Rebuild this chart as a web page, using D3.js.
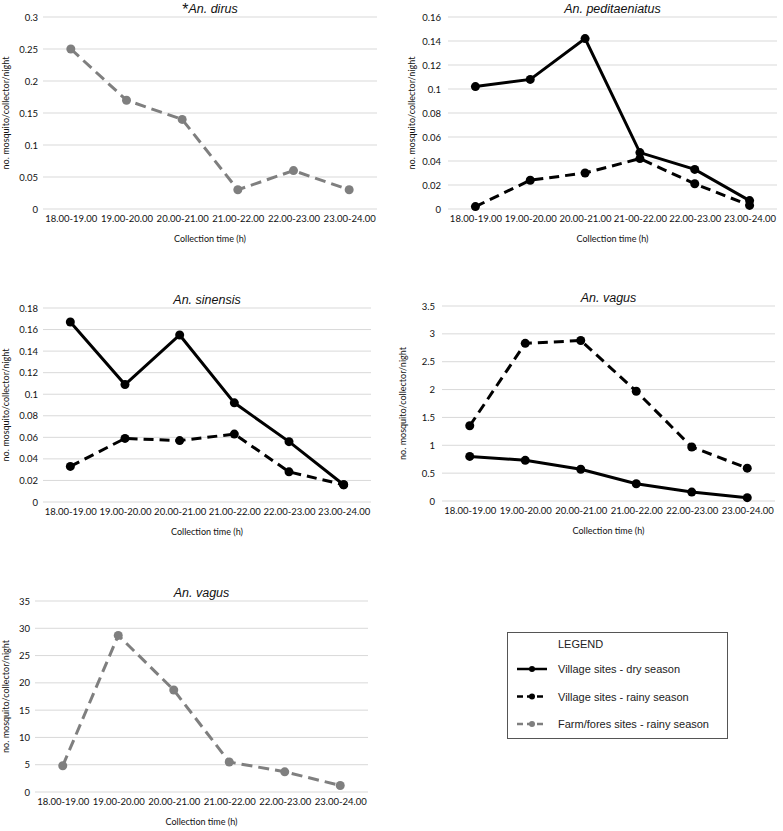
<!DOCTYPE html>
<html>
<head>
<meta charset="utf-8">
<script src="https://cdn.jsdelivr.net/npm/d3@7"></script>
<style>
  body { margin: 0; background: #fff; }
  svg { display: block; }
  .tick text { font-family: Lato, "Open Sans", sans-serif; font-size: 9.5px; fill: #111; }
  .grid line { stroke: #d9d9d9; stroke-width: 1; }
  .title { font-family: "Liberation Sans", Arial, sans-serif; font-style: italic; font-size: 12.5px; fill: #111; }
  .axis-label { font-family: Lato, "Open Sans", sans-serif; font-size: 9px; fill: #111; }
  .legend text { font-family: "Liberation Sans", Arial, sans-serif; font-size: 11px; fill: #222; }
</style>
</head>
<body>
<div id="chart-area"></div>
<script>

// categories (x axis)
let hours = ["18.00-19.00", "19.00-20.00", "20.00-21.00", "21.00-22.00", "22.00-23.00", "23.00-24.00"];
// the peditaeniatus panel has a typo in one label
let hoursPedit = ["18.00-19.00", "19.00-20.00", "20.00-21.00", "21-00-22.00", "22.00-23.00", "23.00-24.00"];

// series values
let dirusFarm = [0.25, 0.17, 0.14, 0.03, 0.06, 0.03];
let peditDry = [0.102, 0.108, 0.142, 0.047, 0.033, 0.007];
let peditRainy = [0.002, 0.024, 0.030, 0.042, 0.021, 0.003];
let sinensisDry = [0.167, 0.109, 0.155, 0.092, 0.056, 0.016];
let sinensisRainy = [0.033, 0.059, 0.057, 0.063, 0.028, 0.016];
let vagusDry = [0.80, 0.73, 0.57, 0.31, 0.16, 0.06];
let vagusRainy = [1.35, 2.83, 2.88, 1.97, 0.97, 0.59];
let vagusFarm = [4.8, 28.7, 18.7, 5.5, 3.7, 1.2];

// y tick values
let ticksDirus = [0, 0.05, 0.1, 0.15, 0.2, 0.25, 0.3];
let ticksPedit = [0, 0.02, 0.04, 0.06, 0.08, 0.1, 0.12, 0.14, 0.16];
let ticksSinensis = [0, 0.02, 0.04, 0.06, 0.08, 0.1, 0.12, 0.14, 0.16, 0.18];
let ticksVagus = [0, 0.5, 1, 1.5, 2, 2.5, 3, 3.5];
let ticksVagusFarm = [0, 5, 10, 15, 20, 25, 30, 35];

// legend labels
let legendLabels = ["Village sites - dry season", "Village sites - rainy season", "Farm/fores sites - rainy season"];

// series styles
let styles = {
	dry: {color: "#000", dash: null},
	rainy: {color: "#000", dash: "10,6"},
	farm: {color: "#7f7f7f", dash: "11,6"}
};

let svg = d3.select("#chart-area").append("svg")
	.attr("width", 783)
	.attr("height", 831);

function drawPanel(p) {

	let g = svg.append("g");

	// scales
	let x = d3.scalePoint()
		.domain(p.cats)
		.range([p.left, p.right])
		.padding(0.5);

	let y = d3.scaleLinear()
		.domain([0, d3.max(p.ticks)])
		.range([p.bottom, p.top]);

	// gridlines
	g.append("g")
		.attr("class", "grid")
		.selectAll("line")
		.data(p.ticks)
		.enter()
		.append("line")
		.attr("x1", p.left)
		.attr("x2", p.right)
		.attr("y1", d => y(d))
		.attr("y2", d => y(d));

	// y axis
	let yAxis = d3.axisLeft(y)
		.tickValues(p.ticks)
		.tickSize(0)
		.tickPadding(p.left - p.yLabelRight)
		.tickFormat(d => d);

	g.append("g")
		.attr("transform", "translate(" + p.left + ",0)")
		.call(yAxis)
		.call(a => a.select(".domain").remove());

	// x axis
	let xAxis = d3.axisBottom(x)
		.tickSize(0)
		.tickPadding(6);

	g.append("g")
		.attr("transform", "translate(0," + p.bottom + ")")
		.call(xAxis)
		.call(a => a.select(".domain").remove());

	// title
	let title = g.append("text")
		.attr("class", "title")
		.attr("x", (p.left + p.right) / 2)
		.attr("y", p.top - 4)
		.attr("text-anchor", "middle");
	if (p.star) {
		title.append("tspan").style("font-style", "normal").style("font-size", "16px").attr("dy", 2).text("*");
		title.append("tspan").attr("dy", -2).text(p.title);
	} else {
		title.text(p.title);
	}

	// axis titles
	g.append("text")
		.attr("class", "axis-label")
		.attr("x", (p.left + p.right) / 2)
		.attr("y", p.bottom + 33)
		.attr("text-anchor", "middle")
		.text("Collection time (h)");

	g.append("text")
		.attr("class", "axis-label")
		.attr("transform", "translate(" + p.yTitleX + "," + ((p.top + p.bottom) / 2) + ") rotate(-90)")
		.attr("text-anchor", "middle")
		.text("no. mosquito/collector/night");

	// lines + markers
	let line = d3.line()
		.x((d, i) => x(p.cats[i]))
		.y(d => y(d));

	p.series.forEach(s => {
		let st = styles[s.type];
		g.append("path")
			.datum(s.values)
			.attr("d", line)
			.attr("fill", "none")
			.attr("stroke", st.color)
			.attr("stroke-width", 3)
			.attr("stroke-dasharray", st.dash);

		g.selectAll(null)
			.data(s.values)
			.enter()
			.append("circle")
			.attr("cx", (d, i) => x(p.cats[i]))
			.attr("cy", d => y(d))
			.attr("r", 4.5)
			.attr("fill", st.color);
	});
}

drawPanel({title: "An. dirus", star: true, cats: hours, ticks: ticksDirus,
	left: 43, right: 377, top: 17, bottom: 209, yLabelRight: 38, yTitleX: 9,
	series: [{type: "farm", values: dirusFarm}]});

drawPanel({title: "An. peditaeniatus", cats: hoursPedit, ticks: ticksPedit,
	left: 448, right: 777, top: 17, bottom: 209, yLabelRight: 441, yTitleX: 415,
	series: [{type: "dry", values: peditDry}, {type: "rainy", values: peditRainy}]});

drawPanel({title: "An. sinensis", cats: hours, ticks: ticksSinensis,
	left: 43, right: 371, top: 308, bottom: 502, yLabelRight: 38, yTitleX: 9,
	series: [{type: "dry", values: sinensisDry}, {type: "rainy", values: sinensisRainy}]});

drawPanel({title: "An. vagus", cats: hours, ticks: ticksVagus,
	left: 442, right: 775, top: 306, bottom: 501, yLabelRight: 435, yTitleX: 406,
	series: [{type: "dry", values: vagusDry}, {type: "rainy", values: vagusRainy}]});

drawPanel({title: "An. vagus", cats: hours, ticks: ticksVagusFarm,
	left: 35, right: 368, top: 601, bottom: 792, yLabelRight: 30, yTitleX: 9,
	series: [{type: "farm", values: vagusFarm}]});

// legend
let legend = svg.append("g").attr("class", "legend");

legend.append("rect")
	.attr("x", 507.5)
	.attr("y", 632.5)
	.attr("width", 220)
	.attr("height", 106)
	.attr("fill", "#fff")
	.attr("stroke", "#555")
	.attr("stroke-width", 1);

legend.append("text")
	.attr("x", 558)
	.attr("y", 648)
	.text("LEGEND");

let legendTypes = ["dry", "rainy", "farm"];
let legendY = d3.scalePoint().domain(legendTypes).range([669, 724]);

legendTypes.forEach((t, i) => {
	let st = styles[t];
	let ly = legendY(t);
	legend.append("line")
		.attr("x1", 517).attr("x2", 547)
		.attr("y1", ly).attr("y2", ly)
		.attr("stroke", st.color)
		.attr("stroke-width", 2.5)
		.attr("stroke-dasharray", st.dash ? "6,4" : null);
	legend.append("circle")
		.attr("cx", 532).attr("cy", ly).attr("r", 3)
		.attr("fill", st.color);
	legend.append("text")
		.attr("x", 558)
		.attr("y", ly + 4)
		.text(legendLabels[i]);
});

</script>
</body>
</html>
